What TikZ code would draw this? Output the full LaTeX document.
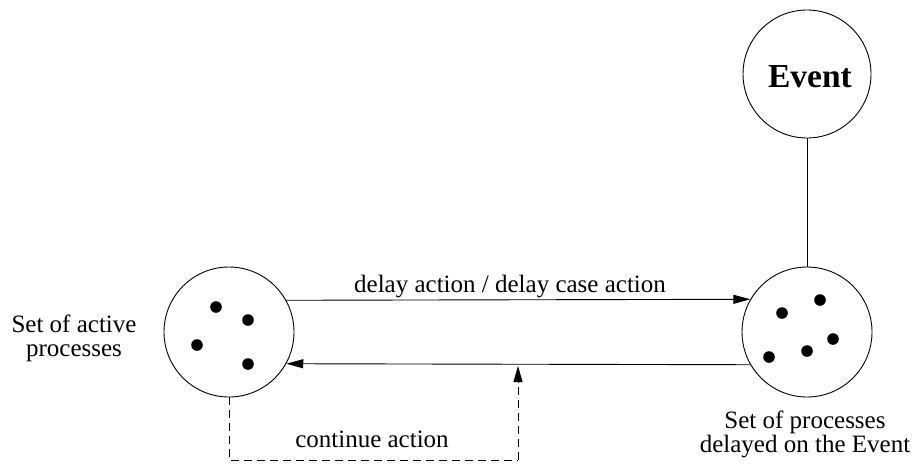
\documentclass[tikz,border=0pt]{standalone}
\usepackage{fontspec}
\setmainfont{Liberation Serif}
\usetikzlibrary{arrows.meta}
\tikzset{
  ln/.style={line width=0.9pt},
  setc/.style={circle,draw,line width=0.9pt,minimum size=130pt,inner sep=0pt},
  arr/.style={ln,-{Triangle[length=17pt,width=9pt]}},
  dsh/.style={ln,dash pattern=on 8pt off 5pt},
  lbl/.style={inner sep=0pt,font=\fontsize{25}{24}\selectfont,align=center},
  dot/.style={fill=black}
}
\begin{document}
\begin{tikzpicture}[x=1pt,y=-1pt]
\useasboundingbox (0,0) rectangle (917,469);
% circles
\node[setc] (act) at (229,332) {};
\node[setc] (del) at (807,332) {};
\node[setc,minimum size=128pt] (ev) at (807,74) {};
\node[inner sep=0pt,anchor=base,font=\fontsize{33.5}{36}\selectfont\bfseries] (evt) at (810,87) {Event};
% dots
\foreach \p in {(216,307),(248,320),(197,345),(248,364)} \fill[dot] \p circle (5.8);
\foreach \p in {(782,313),(820,300),(833,339),(807,351),(769,357)} \fill[dot] \p circle (5.8);
% connectors
\draw[ln] (ev.south) -- (del.north);
\draw[arr] (act.29.5) -- (del.150.5);
\draw[arr] (del.-150.5) -- (act.-29.5);
\coordinate (c2) at (518,460);
\coordinate (tip) at (518,366);
\draw[dsh] (act.south) |- (c2);
\draw[dsh,-{Triangle[length=16pt,width=9pt]}] (c2) -- (tip);
% labels
\node[lbl,anchor=base] (l1) at (510,292) {delay action / delay case action};
\node[lbl,anchor=base] (l2) at (372,447) {continue action};
\node[lbl] (l3) at (74,338) {Set of active\\processes};
\node[lbl] (l4) at (805,434) {Set of processes\\delayed on the Event};
\end{tikzpicture}
\end{document}
